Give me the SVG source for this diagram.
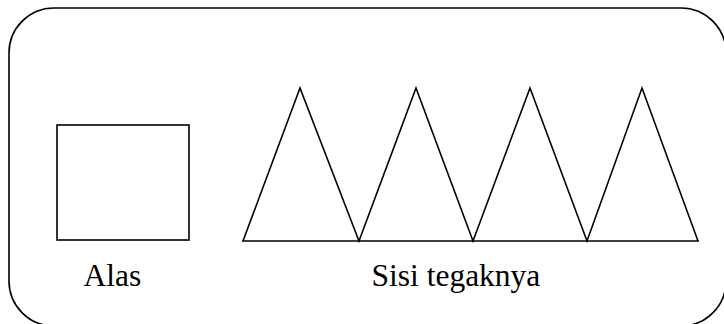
<svg xmlns="http://www.w3.org/2000/svg" width="724" height="324" viewBox="0 0 724 324">
<style>
.ln{fill:none;stroke:#000;stroke-width:1.6;stroke-linejoin:miter}
.lb{font-family:"Liberation Serif","Times New Roman",serif;font-size:31.5px;fill:#000}
</style>
<rect width="724" height="324" fill="#fff"/>
<g id="frame"><rect class="ln" x="9" y="8" width="717" height="318" rx="45" ry="45"/></g>
<g id="alas">
<rect class="ln" x="57" y="125" width="132" height="115"/>
<text class="lb" x="83.5" y="286">Alas</text>
</g>
<g id="sisi">
<polyline class="ln" points="243,241 300,88 359,241 416,88 473,241 530,88 587,241 642,88 698,241"/>
<line class="ln" x1="242" y1="241" x2="699" y2="241"/>
<text class="lb" x="371.5" y="286">Sisi tegaknya</text>
</g>
</svg>
